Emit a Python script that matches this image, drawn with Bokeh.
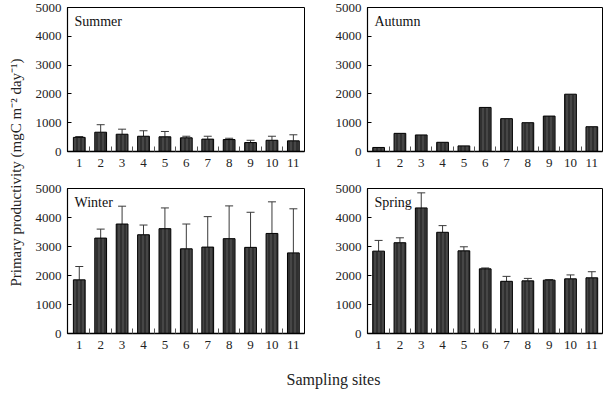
from bokeh.plotting import figure
from bokeh.models import Range1d, FixedTicker, ColumnDataSource, Whisker, TeeHead
from bokeh.layouts import row, column
from bokeh.core.properties import value
from bokeh.embed import file_html
from bokeh.resources import INLINE
import math

# Primary productivity (mgC m-2 day-1) at sampling sites 1-11, by season
sites = [1, 2, 3, 4, 5, 6, 7, 8, 9, 10, 11]
site_labels = [str(s) for s in sites]

summer_mean = [490, 670, 600, 530, 510, 475, 430, 415, 310, 390, 370]
summer_err = [30, 260, 175, 190, 185, 55, 100, 45, 80, 140, 210]

autumn_mean = [140, 630, 575, 320, 195, 1530, 1140, 1000, 1230, 1990, 860]
autumn_err = [0, 0, 0, 0, 0, 0, 0, 0, 0, 0, 0]

winter_mean = [1850, 3290, 3775, 3405, 3615, 2920, 2980, 3270, 2970, 3450, 2780]
winter_err = [460, 310, 615, 335, 715, 855, 1050, 1130, 1210, 1090, 1520]

spring_mean = [2840, 3130, 4330, 3490, 2850, 2230, 1800, 1815, 1840, 1885, 1920]
spring_err = [370, 170, 520, 230, 140, 30, 170, 85, 20, 135, 210]

y_ticks = [0, 1000, 2000, 3000, 4000, 5000]
y_label = "Primary productivity (mgC m\u207b\u00b2 day\u207b\u00b9)"
x_label = "Sampling sites"

SERIF = "Liberation Serif"
BAR_FILL = "#303030"


def panel(name, means, errs, width, height, b_left, b_right, b_top, b_bottom, xr):
    p = figure(width=width, height=height, x_range=Range1d(*xr), y_range=Range1d(0, 5000),
               output_backend="svg", toolbar_location=None,
               min_border_left=b_left, min_border_right=b_right,
               min_border_top=b_top, min_border_bottom=b_bottom)
    p.xgrid.visible = False
    p.ygrid.visible = False
    p.outline_line_color = "black"
    p.outline_line_width = 1
    p.outline_line_alpha = 1
    p.background_fill_color = "white"
    p.border_fill_color = "white"

    src = ColumnDataSource(dict(x=sites, top=means, upper=[m + e for m, e in zip(means, errs)]))
    p.vbar(x="x", top="top", width=0.55, source=src, fill_color=BAR_FILL, line_color="black",
           line_width=1, hatch_pattern="vertical_line", hatch_color="#5c5c5c",
           hatch_scale=4, hatch_weight=1)

    if any(e > 0 for e in errs):
        w = Whisker(source=src, base="x", lower="top", upper="upper", dimension="height",
                    line_color="#3a3a3a", line_width=1,
                    upper_head=TeeHead(size=8, line_color="#3a3a3a", line_width=1),
                    lower_head=None)
        p.add_layout(w)

    # category labels at the bars, tick marks between them
    p.xaxis.ticker = FixedTicker(ticks=sites, minor_ticks=[s + 0.5 for s in sites[:-1]])
    p.xaxis.major_label_overrides = {s: l for s, l in zip(sites, site_labels)}
    p.xaxis.major_tick_in = 0
    p.xaxis.major_tick_out = 0
    p.xaxis.minor_tick_in = 5
    p.xaxis.minor_tick_out = 0
    p.xaxis.minor_tick_line_color = "#555555"
    p.xaxis.axis_line_width = 1.6
    p.xaxis.major_label_standoff = 7
    p.xaxis.major_label_text_font = SERIF
    p.xaxis.major_label_text_font_size = "13px"
    p.xaxis.major_label_text_color = "#222222"

    p.yaxis.ticker = FixedTicker(ticks=y_ticks)
    p.yaxis.major_tick_in = 4
    p.yaxis.major_tick_out = 0
    p.yaxis.minor_tick_in = 0
    p.yaxis.minor_tick_out = 0
    p.yaxis.axis_line_width = 1.2
    p.yaxis.major_label_standoff = 6
    p.yaxis.major_label_text_font = SERIF
    p.yaxis.major_label_text_font_size = "13px"
    p.yaxis.major_label_text_color = "#222222"

    p.text(x=[xr[0]], y=[5000], text=[name], x_offset=7, y_offset=6,
           text_font=value(SERIF), text_font_size="14px", text_color="#111111",
           text_align="left", text_baseline="top")
    return p


LEFT_W = 28
p1 = panel("Summer", summer_mean, summer_err, 292, 175, 39, 16, 7, 24, (0.45, 11.52))
p2 = panel("Autumn", autumn_mean, autumn_err, 283, 175, 47, 1, 7, 24, (0.48, 11.5))
p3 = panel("Winter", winter_mean, winter_err, 292, 182, 39, 16, 13, 24, (0.45, 11.52))
p4 = panel("Spring", spring_mean, spring_err, 283, 182, 47, 1, 13, 24, (0.48, 11.5))


def strip(width, height):
    f = figure(width=width, height=height, x_range=Range1d(0, width), y_range=Range1d(0, height),
               output_backend="svg", toolbar_location=None, min_border=0)
    f.axis.visible = False
    f.grid.visible = False
    f.outline_line_color = None
    return f


ylab = strip(LEFT_W, 393)
ylab.text(x=[15], y=[393 - 172], text=[y_label], angle=math.pi / 2,
          text_font=value(SERIF), text_font_size="15px", text_color="#222222",
          text_align="center", text_baseline="middle")

xlab = strip(575, 36)
xlab.text(x=[333 - LEFT_W], y=[14], text=[x_label],
          text_font=value(SERIF), text_font_size="16px", text_color="#222222",
          text_align="center", text_baseline="middle")

layout = row(ylab, column(row(p1, p2), row(p3, p4), xlab))

open("out.html", "w").write(file_html(layout, INLINE))
